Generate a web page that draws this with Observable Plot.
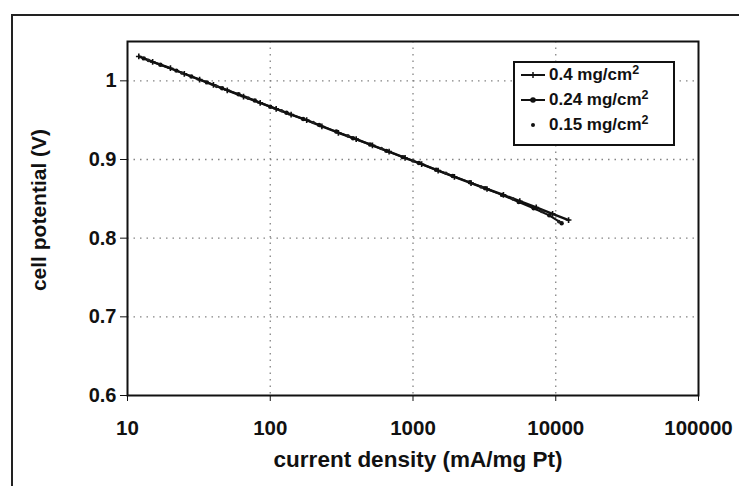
<!DOCTYPE html>
<html>
<head>
<meta charset="utf-8">
<script src="https://cdn.jsdelivr.net/npm/d3@7"></script>
<script src="https://cdn.jsdelivr.net/npm/@observablehq/plot@0.6"></script>
<style>
  html, body { margin: 0; padding: 0; background: #fff; }
  body { width: 739px; height: 486px; position: relative; overflow: hidden; font-family: "Liberation Sans", Arial, sans-serif; }
  #outer { position: absolute; left: 11px; top: 14px; width: 800px; height: 520px; border-top: 2px solid #222; border-left: 2px solid #222; }
  #chart { position: absolute; left: 0; top: 0; }
  #ytitle { position: absolute; left: 39px; top: 210px; transform: translate(-50%, -50%) rotate(-90deg); font-size: 21px; font-weight: bold; color: #111; white-space: nowrap; }
  #legend { position: absolute; left: 513px; top: 61px; width: 158px; height: 81px; border: 2px solid #111; background: #fff; }
  .row { position: absolute; left: 5px; height: 22px; display: flex; align-items: center; font-size: 17px; font-weight: bold; color: #111; white-space: nowrap; }
  .row svg { margin-right: 3px; }
  .row sup { font-size: 12.5px; line-height: 0; vertical-align: 6px; }
</style>
</head>
<body>
<div id="outer"></div>
<div id="chart"></div>
<div id="ytitle"></div>
<div id="legend"></div>
<script>
// Series: 0.4 mg/cm2
const currentA = [12, 15, 20, 25, 32, 40, 50, 65, 85, 110, 140, 180, 230, 300, 400, 520, 680, 880, 1150, 1500, 1950, 2550, 3300, 4300, 5600, 7300, 9500, 12300];
const potentialA = [1.031, 1.024, 1.016, 1.009, 1.0015, 0.995, 0.988, 0.980, 0.972, 0.9645, 0.957, 0.950, 0.942, 0.934, 0.926, 0.918, 0.910, 0.902, 0.894, 0.886, 0.878, 0.870, 0.8625, 0.855, 0.847, 0.839, 0.831, 0.823];
// Series: 0.24 mg/cm2
const currentB = [13, 17, 22, 28, 36, 46, 60, 78, 100, 130, 170, 220, 290, 380, 500, 650, 850, 1100, 1450, 1900, 2500, 3200, 4200, 5500, 7000, 9000, 11000];
const potentialB = [1.0285, 1.0205, 1.013, 1.0055, 0.998, 0.9905, 0.983, 0.975, 0.967, 0.9595, 0.9515, 0.944, 0.9355, 0.927, 0.919, 0.911, 0.903, 0.8955, 0.887, 0.879, 0.871, 0.8635, 0.855, 0.846, 0.838, 0.829, 0.819];
// Series: 0.15 mg/cm2
const currentC = [14, 24, 42, 70, 120, 200, 350, 600, 1000, 1700, 3000, 5000, 8000, 10500];
const potentialC = [1.026, 1.010, 0.993, 0.978, 0.962, 0.947, 0.930, 0.914, 0.898, 0.8825, 0.865, 0.850, 0.834, 0.821];

const seriesNames = ["0.4 mg/cm", "0.24 mg/cm", "0.15 mg/cm"];
const xTicks = [10, 100, 1000, 10000, 100000];
const yTicks = [0.6, 0.7, 0.8, 0.9, 1.0];
const xGrid = [100, 1000, 10000];
const yGrid = [0.7, 0.8, 0.9, 1.0];
const xLabel = "current density (mA/mg Pt)";
const yLabel = "cell potential (V)";

const A = currentA.map((c, i) => ({c, v: potentialA[i]}));
const B = currentB.map((c, i) => ({c, v: potentialB[i]}));
const C = currentC.map((c, i) => ({c, v: potentialC[i]}));

const chart = Plot.plot({
  width: 739,
  height: 486,
  marginLeft: 127,
  marginRight: 41,
  marginTop: 41,
  marginBottom: 91,
  style: {fontFamily: "'Liberation Sans', Arial, sans-serif", fontSize: "20px", fontWeight: "bold", color: "#111", background: "transparent"},
  x: {type: "log", domain: [10, 100000], ticks: xTicks, tickFormat: d => String(d)},
  y: {domain: [0.6, 1.05], ticks: yTicks, tickFormat: d => d === 1 ? "1" : d.toFixed(1)},
  marks: [
    Plot.gridX(xGrid, {stroke: "#777", strokeOpacity: 0.9, strokeDasharray: "1.5,5", strokeWidth: 1.3}),
    Plot.gridY(yGrid, {stroke: "#777", strokeOpacity: 0.9, strokeDasharray: "1.5,5", strokeWidth: 1.3}),
    Plot.frame({stroke: "#111", strokeWidth: 2}),
    Plot.axisX({ticks: xTicks, tickFormat: d => String(d), tickSize: 6, tickPadding: 19, tickStrokeWidth: 2, fontSize: 20.5, label: null}),
    Plot.axisY({ticks: yTicks, tickFormat: d => d === 1 ? "1" : d.toFixed(1), tickSize: 7, tickPadding: 4, tickStrokeWidth: 2, fontSize: 20, label: null}),
    Plot.text([xLabel], {frameAnchor: "bottom", dx: 5, dy: 71, fontSize: 22.5, fontWeight: "bold", fill: "#111"}),
    Plot.line(A, {x: "c", y: "v", stroke: "#111", strokeWidth: 2.4}),
    Plot.line(B, {x: "c", y: "v", stroke: "#111", strokeWidth: 2}),
    Plot.dot(A, {x: "c", y: "v", symbol: "plus", r: 2, stroke: "#111", strokeWidth: 1.6}),
    Plot.dot(B, {x: "c", y: "v", r: 2.2, fill: "#111"}),
    Plot.dot(C, {x: "c", y: "v", r: 1.8, fill: "#222"})
  ]
});
document.getElementById("chart").appendChild(chart);
document.getElementById("ytitle").textContent = yLabel;

// Legend
const legend = document.getElementById("legend");
const symbols = [
  `<svg width="26" height="12"><line x1="1" y1="6" x2="25" y2="6" stroke="#111" stroke-width="2"/><line x1="13" y1="3" x2="13" y2="9" stroke="#111" stroke-width="1.5"/></svg>`,
  `<svg width="26" height="12"><line x1="1" y1="6" x2="25" y2="6" stroke="#111" stroke-width="2"/><circle cx="13" cy="6" r="2.8" fill="#111"/></svg>`,
  `<svg width="26" height="12"><circle cx="13" cy="6" r="2" fill="#111"/></svg>`
];
seriesNames.forEach((name, i) => {
  const row = document.createElement("div");
  row.className = "row";
  row.style.top = (1 + i * 25) + "px";
  row.innerHTML = symbols[i] + `<span>${name}<sup>2</sup></span>`;
  legend.appendChild(row);
});
</script>
</body>
</html>
